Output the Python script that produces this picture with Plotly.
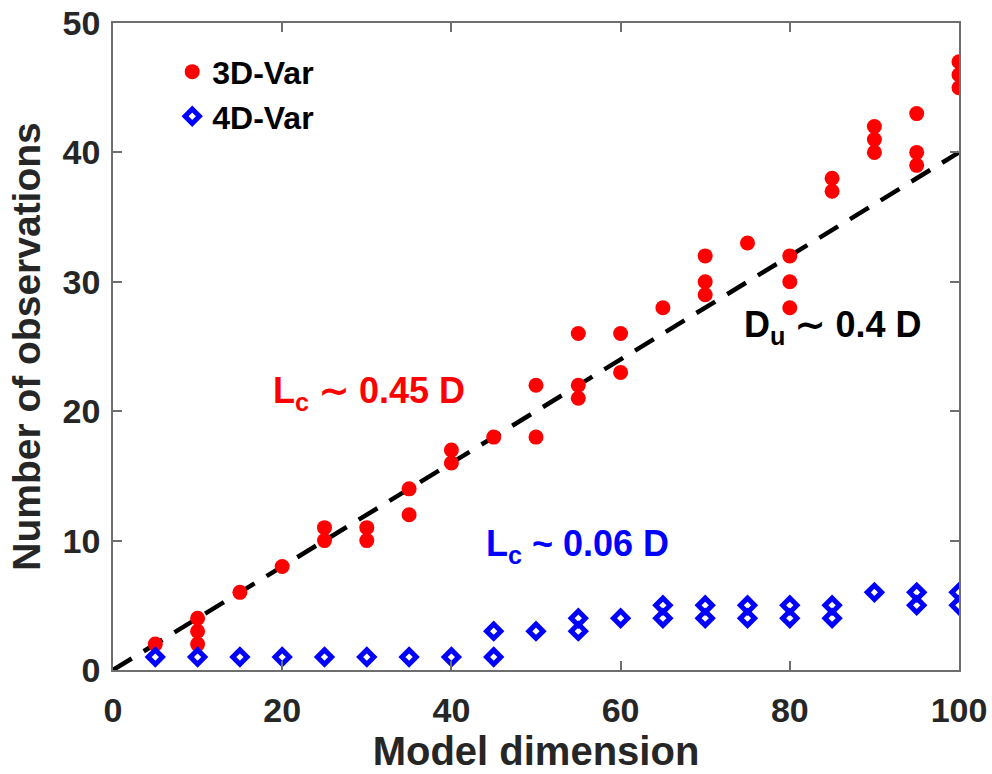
import plotly.graph_objects as go

# 3D-Var data
x3d = [5, 10, 10, 10, 15, 20, 25, 25, 30, 30, 35, 35, 40, 40, 45, 50, 50,
       55, 55, 55, 60, 60, 65, 70, 70, 70, 75, 80, 80, 80, 85, 85,
       90, 90, 90, 95, 95, 95, 100, 100, 100]
y3d = [2, 2, 3, 4, 6, 8, 10, 11, 10, 11, 12, 14, 16, 17, 18, 18, 22,
       21, 22, 26, 23, 26, 28, 29, 30, 32, 33, 28, 30, 32, 37, 38,
       40, 41, 42, 39, 40, 43, 45, 46, 47]

# 4D-Var data
x4d = [5, 10, 15, 20, 25, 30, 35, 40, 45, 45, 50, 55, 55, 60, 65, 65,
       70, 70, 75, 75, 80, 80, 85, 85, 90, 95, 95, 100, 100]
y4d = [1, 1, 1, 1, 1, 1, 1, 1, 1, 3, 3, 3, 4, 4, 4, 5,
       4, 5, 4, 5, 4, 5, 4, 5, 6, 5, 6, 5, 6]

# fitted line D_u ~ 0.4 D
fit_x = [0, 100]
fit_y = [0, 40]

xticks = [0, 20, 40, 60, 80, 100]
yticks = [0, 10, 20, 30, 40, 50]

FONT = "Liberation Sans, Arial, sans-serif"
TXT = "#262626"
AX = "#6e6e6e"

fig = go.Figure()
fig.add_trace(go.Scatter(
    x=fit_x, y=fit_y, mode="lines", showlegend=False, hoverinfo="skip",
    line=dict(color="black", width=4.5, dash="22px,14px")))
fig.add_trace(go.Scatter(
    x=x3d, y=y3d, mode="markers", name="3D-Var",
    marker=dict(symbol="circle", size=15, color="#ff0000", line=dict(width=0))))
fig.add_trace(go.Scatter(
    x=x4d, y=y4d, mode="markers", name="4D-Var",
    marker=dict(symbol="diamond-open", size=11, color="#0000ff",
                line=dict(width=5, color="#0000ff"))))

fig.add_annotation(x=18.7, y=21.4, xref="x", yref="y", xanchor="left", yanchor="middle",
                   text="L<sub>c</sub> ∼ 0.45 D", showarrow=False,
                   font=dict(family=FONT, size=36, color="#ff0000", weight="bold"))
fig.add_annotation(x=74.4, y=26.5, xref="x", yref="y", xanchor="left", yanchor="middle",
                   text="D<sub>u</sub> ∼ 0.4 D", showarrow=False,
                   font=dict(family=FONT, size=36, color="black", weight="bold"))
fig.add_annotation(x=43.9, y=9.6, xref="x", yref="y", xanchor="left", yanchor="middle",
                   text="L<sub>c</sub> ~ 0.06 D", showarrow=False,
                   font=dict(family=FONT, size=36, color="#0000ff", weight="bold"))

axis_common = dict(
    showline=True, linecolor=AX, linewidth=1.5, mirror="ticks",
    ticks="inside", ticklen=9, tickcolor=AX, tickwidth=1.5,
    showgrid=False, zeroline=False,
    tickfont=dict(family=FONT, size=34, color=TXT, weight="bold"),
)

fig.update_xaxes(range=[0, 100], tickvals=xticks, ticktext=[str(v) for v in xticks],
                 ticklabelstandoff=9,
                 title=dict(text="Model dimension", standoff=0,
                            font=dict(family=FONT, size=40, color=TXT, weight="bold")),
                 **axis_common)
fig.update_yaxes(range=[0, 50], tickvals=yticks, ticktext=[str(v) for v in yticks],
                 ticklabelstandoff=4,
                 title=dict(text="Number of observations", standoff=10,
                            font=dict(family=FONT, size=39, color=TXT, weight="bold")),
                 **axis_common)

fig.update_layout(
    width=992, height=774,
    margin=dict(l=113, r=33, t=23, b=104, autoexpand=False),
    paper_bgcolor="white", plot_bgcolor="white",
    legend=dict(x=0.07, y=0.967, xanchor="left", yanchor="top",
                bgcolor="rgba(0,0,0,0)", borderwidth=0,
                font=dict(family=FONT, size=32, color="black", weight="bold"),
                itemsizing="trace", tracegroupgap=0),
)

fig.write_html("out.html", config={"displayModeBar": False},
               post_script="document.body.style.margin='0';document.body.style.overflow='hidden';")
